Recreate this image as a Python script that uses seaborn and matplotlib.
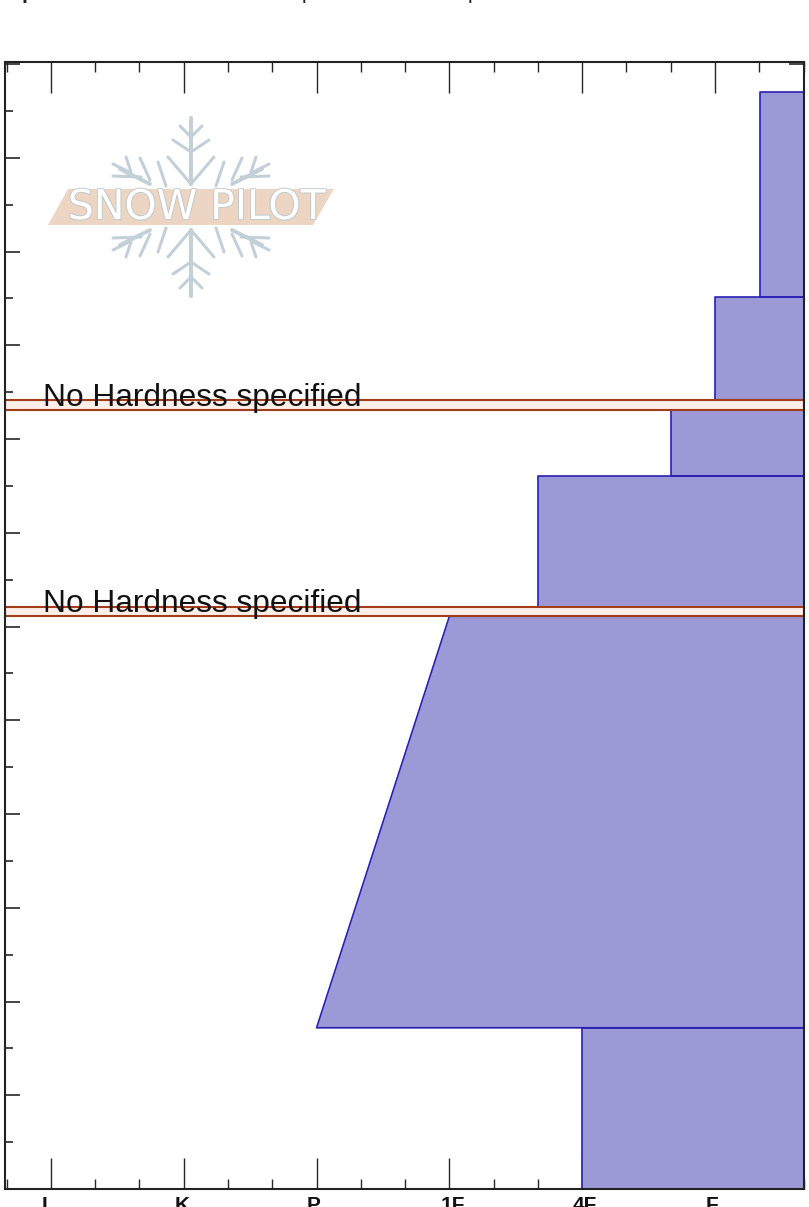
import numpy as np
import pandas as pd
import seaborn as sns
from matplotlib import pyplot as plt
from matplotlib import patheffects as pe
from matplotlib.ticker import MultipleLocator

# snow profile layers, depth in cm from the ground, hardness as index on the scale
layer_bottom = [0, 34.4, 124.2, 152.2, 168.3, 190.3]
layer_top = [34.4, 122.2, 152.2, 166.2, 190.3, 234]
hard_bottom = [4, 2, 3.67, 4.67, 5, 5.34]
hard_top = [4, 3, 3.67, 4.67, 5, 5.34]

# layers with no hardness given
empty_bottom = [122.2, 166.2]
empty_top = [124.2, 168.3]

hardness_pos = [0, 1, 2, 3, 4, 5]
hardness_labels = ['I', 'K', 'P', '1F', '4F', 'F']

FILL = '#9c9ad6'
EDGE = '#2a1fb5'
RED = '#a33c18'

sns.set_style('ticks')
plt.rcParams['font.family'] = ['Liberation Sans', 'DejaVu Sans']

W, H = 809, 1207
fig = plt.figure(figsize=(W / 100, H / 100), dpi=100)
ax = fig.add_axes([5 / W, 1 - 1189 / H, 799 / W, 1127 / H])

x_min, x_max = -0.346, 5.67
df = pd.DataFrame({'bottom': layer_bottom, 'top': layer_top,
                   'h_bottom': hard_bottom, 'h_top': hard_top})

for _, row in df.iterrows():
    ax.fill_betweenx([row['bottom'], row['top']], [row['h_bottom'], row['h_top']], x_max,
                     color=FILL, lw=0, zorder=1)
    outline = pd.DataFrame({'h': [x_max, row['h_bottom'], row['h_top'], x_max],
                            'depth': [row['bottom'], row['bottom'], row['top'], row['top']]})
    sns.lineplot(data=outline, x='h', y='depth', sort=False, estimator=None,
                 color=EDGE, lw=1.2, ax=ax, zorder=2)

for lo, hi in zip(empty_bottom, empty_top):
    ax.fill_betweenx([lo, hi], x_min, x_max, facecolor='#fdeee8', edgecolor=RED, lw=1.5, zorder=3)
    ax.text(-0.06, lo + 0.95, 'No Hardness specified', fontsize=22.8, color='#111111',
            va='baseline', ha='left', zorder=4)

ax.set_xlim(x_min, x_max)
ax.set_ylim(0, (1189 - 62) / 46.87 * 10)
ax.set_xlabel('')
ax.set_ylabel('')

ax.set_xticks(hardness_pos)
ax.set_xticklabels([])
# labels sit a little off their ticks in the original
label_shift = [-6, -2, -3, 3, 3, -3]
for pos, lab, dx in zip(hardness_pos, hardness_labels, label_shift):
    ax.annotate(lab, (pos, 0), xycoords=('data', 'axes fraction'), xytext=(dx * 0.72, -5),
                textcoords='offset points', ha='center', va='top', fontsize=15,
                fontweight='bold', color='#111111', annotation_clip=False)
ax.xaxis.set_minor_locator(MultipleLocator(1 / 3))
ax.yaxis.set_major_locator(MultipleLocator(20))
ax.yaxis.set_minor_locator(MultipleLocator(10))
ax.tick_params(axis='x', which='major', direction='in', top=True, bottom=True, length=22, width=1, zorder=6)
ax.tick_params(axis='x', which='minor', direction='in', top=True, bottom=True, length=7.5, width=1, zorder=6)
ax.tick_params(axis='y', which='major', direction='in', left=True, right=True, length=10.5, width=1.2,
               labelleft=False, zorder=6)
ax.tick_params(axis='y', which='minor', direction='in', left=True, right=True, length=6, width=1.2, zorder=6)
for s in ax.spines.values():
    s.set_visible(True)
    s.set_linewidth(1.5)
    s.set_color('#222222')
    s.set_zorder(7)

# clipped title line at the very top of the image
for px, txt, bold in [(22, 'p', True), (302, 'p', False), (328, '/', False), (468, 'p', False)]:
    fig.text(px / W, 1 + 1 / H, txt, fontsize=15, fontweight='bold' if bold else 'normal',
             va='baseline', ha='left', color='#222222', clip_on=False)

# logo, laid out in pixels of the image
logo = fig.add_axes([0, 0, 1, 1], facecolor='none', zorder=5)
logo.set_xlim(0, W)
logo.set_ylim(H, 0)
logo.axis('off')
GREY = '#c3d0d8'
cx, cy = 191, 207


def stroke(x0, y0, x1, y1, lw=2.2):
    # mirrored into all four corners around the flake centre
    for sx in (-1, 1):
        for sy in (-1, 1):
            logo.plot([cx + sx * x0, cx + sx * x1], [cy + sy * y0, cy + sy * y1],
                      color=GREY, lw=lw, solid_capstyle='round')


stroke(0, 23, 0, 89, 2.8)
for base, dx, dy in [(70, 11, 11), (55, 18, 12), (23, 23, 27)]:
    stroke(0, base, dx, base + dy)
stroke(41, 23, 71, 38, 2.8)
stroke(41, 27, 51, 49)
stroke(60, 35, 65, 50)
stroke(62, 35, 78, 43)
stroke(50, 30, 78, 31)
stroke(25, 21, 33, 45, 2.2)

logo.fill([68, 334, 313, 48], [189, 189, 225, 225], color='#ecd6c3', lw=0, zorder=3)
logo.text(196.5, 208, 'SNOW PILOT', fontsize=29.5, color='white', ha='center', va='center',
          family='DejaVu Sans', zorder=4,
          path_effects=[pe.withStroke(linewidth=1.4, foreground='#c3c9cc')])

fig.savefig('out.png', dpi=100)
